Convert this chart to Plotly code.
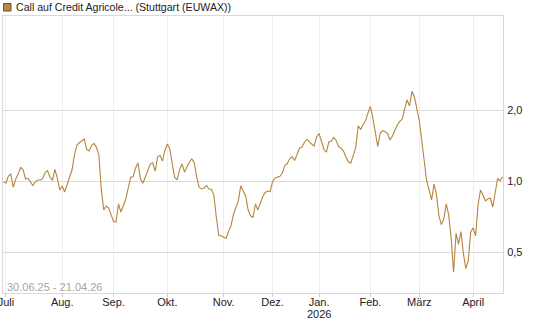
import math
import pandas as pd
import plotly.graph_objects as go

# trading days (Stuttgart), 30.06.2025 - 21.04.2026
holidays = ["2025-12-24", "2025-12-25", "2025-12-26", "2025-12-31",
            "2026-01-01", "2026-04-03", "2026-04-06"]
days = pd.bdate_range("2025-06-30", "2026-04-21")
days = days[~days.isin(pd.to_datetime(holidays))]
dates = [d.strftime("%Y-%m-%d") for d in days]

prices = [
    0.990, 0.981, 1.050, 1.070, 0.941, 1.020, 1.070, 1.141, 1.119, 1.020,
    1.027, 0.990, 0.957, 0.992, 1.010, 1.010, 1.025, 1.084, 1.107, 1.040,
    1.005, 1.119, 1.030, 0.916, 0.953, 0.898, 0.971, 1.055, 1.113, 1.289,
    1.421, 1.453, 1.477, 1.507, 1.360, 1.340, 1.414, 1.443, 1.389, 1.289,
    0.916, 0.754, 0.783, 0.768, 0.718, 0.674, 0.670, 0.799, 0.739, 0.783,
    0.839, 0.934, 1.035, 1.045, 1.135, 1.192, 1.020, 0.978, 1.040, 1.128,
    1.180, 1.195, 1.102, 1.264, 1.285, 1.216, 1.353, 1.435, 1.366, 1.180,
    1.035, 1.010, 1.119, 1.180, 1.092, 1.146, 1.204, 1.240, 1.192, 1.035,
    0.939, 0.925, 0.934, 0.957, 0.925, 0.920, 0.872, 0.704, 0.586, 0.586,
    0.578, 0.571, 0.611, 0.645, 0.721, 0.780, 0.823, 0.953, 0.907, 0.864,
    0.754, 0.712, 0.701, 0.799, 0.754, 0.807, 0.860, 0.894, 0.907, 0.901,
    0.995, 1.030, 1.040, 1.047, 1.081, 1.163, 1.186, 1.243, 1.270, 1.222,
    1.295, 1.380, 1.389, 1.456, 1.500, 1.463, 1.435, 1.407, 1.536, 1.590,
    1.477, 1.360, 1.327, 1.463, 1.477, 1.529, 1.486, 1.398, 1.377, 1.340,
    1.264, 1.204, 1.192, 1.279, 1.386, 1.712, 1.653, 1.737, 1.800, 1.942,
    2.069, 1.849, 1.575, 1.400, 1.598, 1.634, 1.621, 1.590, 1.492, 1.551,
    1.637, 1.728, 1.788, 1.831, 2.020, 2.205, 2.080, 2.405, 2.272, 2.049,
    1.796, 1.477, 1.240, 1.000, 0.916, 0.831, 0.971, 0.880, 0.711, 0.654,
    0.690, 0.800, 0.718, 0.573, 0.411, 0.600, 0.540, 0.610, 0.493, 0.425,
    0.460, 0.610, 0.632, 0.585, 0.791, 0.916, 0.872, 0.823, 0.839, 0.847,
    0.776, 0.889, 1.025, 1.003, 1.043,
]
n = min(len(dates), len(prices))
dates = dates[:n]
prices = prices[:n]

month_labels = ["Juli", "Aug.", "Sep.", "Okt.", "Nov.", "Dez.",
                "Jan.", "Feb.", "März", "April"]
year_label = "2026"
y_ticks = [0.5, 1.0, 2.0]
y_ticktext = ["0,5", "1,0", "2,0"]
series_name = "Call auf Credit Agricole... (Stuttgart (EUWAX))"
range_text = "30.06.25 - 21.04.26"

# first trading day of each month (from July)
month_starts = []
seen = set()
for d in dates:
    key = d[:7]
    if key not in seen:
        seen.add(key)
        month_starts.append(d)
month_starts = [d for d in month_starts if d[:7] != "2025-06"][:len(month_labels)]

LINE = "#b5853d"
FONT = "Liberation Sans, Arial, sans-serif"
W, H = 545, 327
ML, MR, MT, MB = 3, 42, 16, 34

fig = go.Figure()
fig.add_trace(go.Scatter(
    x=dates, y=prices, mode="lines",
    line=dict(color=LINE, width=1.1),
    name=series_name, showlegend=False, hoverinfo="skip",
))

fig.update_layout(
    width=W, height=H,
    margin=dict(l=ML, r=MR, t=MT, b=MB, autoexpand=False),
    paper_bgcolor="white", plot_bgcolor="white",
    font=dict(family=FONT, size=11, color="#222"),
    separators=",.",
    xaxis=dict(
        type="category", automargin=False,
        range=[-0.2, n - 1 + 0.2],
        tickmode="array", tickvals=month_starts, ticktext=month_labels,
        showgrid=True, gridcolor="#efefef", gridwidth=1,
        showline=True, linecolor="#d8d8d8", linewidth=1, mirror=True,
        ticks="outside", ticklen=3, tickcolor="#cccccc",
        ticklabelstandoff=-4,
        tickfont=dict(family=FONT, size=11, color="#222"),
        tickangle=0, zeroline=False, fixedrange=True,
    ),
    yaxis=dict(
        type="log", side="right", automargin=False,
        range=[math.log10(0.3351), math.log10(5.007)],
        tickmode="array", tickvals=y_ticks, ticktext=y_ticktext,
        showgrid=True, gridcolor="#dcdcdc", gridwidth=1,
        showline=True, linecolor="#d8d8d8", linewidth=1, mirror=True,
        ticks="", ticklabelstandoff=1,
        tickfont=dict(family=FONT, size=11, color="#222"),
        zeroline=False, fixedrange=True,
    ),
)

pw, ph = W - ML - MR, H - MT - MB
def px_x(x):
    return (x - ML) / pw
def px_y(y):
    return (H - MB - y) / ph

# legend marker square and series title
fig.update_layout(shapes=[dict(
    type="rect", xref="paper", yref="paper",
    x0=px_x(3.5), x1=px_x(11.0), y0=px_y(11.0), y1=px_y(3.5),
    fillcolor="#b8874a", line=dict(color="#6e5128", width=1),
)])
fig.add_annotation(
    xref="paper", yref="paper", x=px_x(13.5), y=px_y(7.3),
    xanchor="left", yanchor="middle", showarrow=False,
    text=series_name, font=dict(family=FONT, size=10.6, color="#222"),
)
fig.add_annotation(
    xref="paper", yref="paper", x=px_x(5.0), y=px_y(286.7),
    xanchor="left", yanchor="middle", showarrow=False,
    text=range_text, font=dict(family=FONT, size=11, color="#aaa39a"),
)
# year under the January tick
fig.add_annotation(
    xref="x", yref="paper", x=month_starts[6], y=px_y(313.5),
    xanchor="center", yanchor="middle", showarrow=False,
    text=year_label, font=dict(family=FONT, size=11, color="#222"),
)

fig.write_html("out.html")
